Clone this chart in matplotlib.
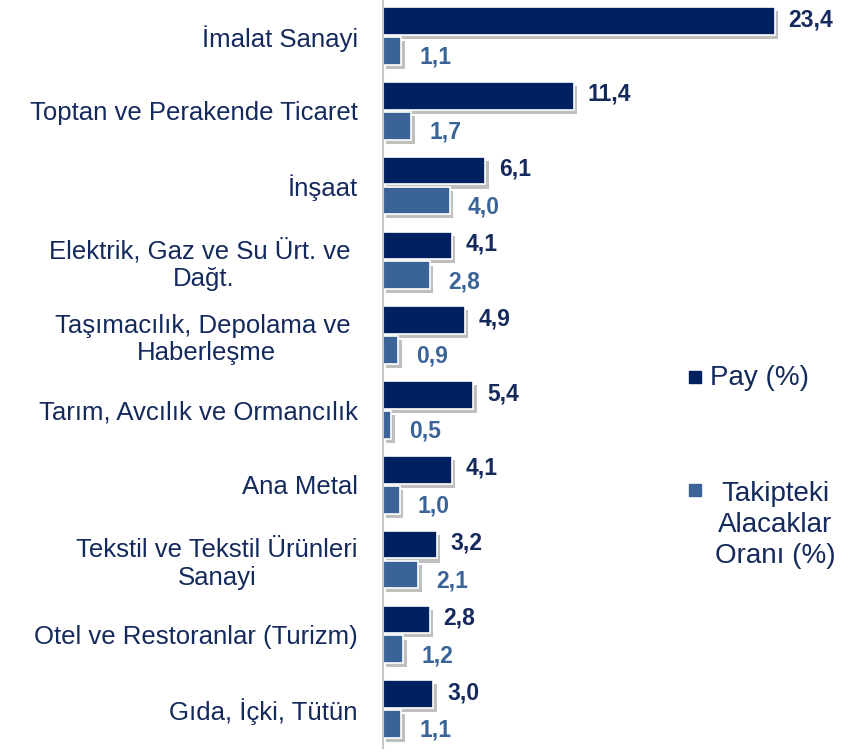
import matplotlib.pyplot as plt
import matplotlib.patheffects as pe
import numpy as np

kategoriler = ['İmalat Sanayi', 'Toptan ve Perakende Ticaret', 'İnşaat',
               'Elektrik, Gaz ve Su Ürt. ve \nDağt.', 'Taşımacılık, Depolama ve \nHaberleşme',
               'Tarım, Avcılık ve Ormancılık', 'Ana Metal',
               'Tekstil ve Tekstil Ürünleri\nSanayi', 'Otel ve Restoranlar (Turizm)',
               'Gıda, İçki, Tütün']
pay = [23.4, 11.4, 6.1, 4.1, 4.9, 5.4, 4.1, 3.2, 2.8, 3.0]
takip = [1.1, 1.7, 4.0, 2.8, 0.9, 0.5, 1.0, 2.1, 1.2, 1.1]

koyu = '#002060'
acik = '#3a6497'
yazi_koyu = '#14295c'

plt.rcParams['font.family'] = ['Liberation Sans', 'DejaVu Sans']

fig = plt.figure(figsize=(8.53, 7.52), dpi=100)
ax = fig.add_axes([383 / 853, 4 / 752, 410 / 853, 748 / 752])

y = np.arange(len(kategoriler))
golge = [pe.SimplePatchShadow(offset=(2.5, -3), shadow_rgbFace='#8c8c8c', alpha=0.55), pe.Normal()]

b1 = ax.barh(y - 0.2, pay, height=0.37, color=koyu, edgecolor='white', linewidth=1.2)
b2 = ax.barh(y + 0.2, takip, height=0.37, color=acik, edgecolor='white', linewidth=1.2)
for b in list(b1) + list(b2):
    b.set_path_effects(golge)

fmt = lambda v: f'{v:.1f}'.replace('.', ',')
for i in range(len(kategoriler)):
    ax.annotate(fmt(pay[i]), (pay[i], y[i] - 0.2), xytext=(10, 1), textcoords='offset points',
                ha='left', va='center', fontsize=16.5, fontweight='bold', color=yazi_koyu)
    ax.annotate(fmt(takip[i]), (takip[i], y[i] + 0.2), xytext=(13, -4.5), textcoords='offset points',
                ha='left', va='center', fontsize=16.5, fontweight='bold', color=acik)

ax.set_xlim(0, 24.5)
ax.set_ylim(9.52, -0.48)
ax.set_yticks(y)
ax.set_yticklabels(kategoriler, fontsize=18.5, color=yazi_koyu, multialignment='center',
                   linespacing=1.2)
ax.tick_params(axis='y', length=0, pad=18)
ax.set_xticks([])
for s in ['top', 'right', 'bottom']:
    ax.spines[s].set_visible(False)
ax.spines['left'].set_color('#c8c8c8')
ax.spines['left'].set_linewidth(1.5)

# lejant
fig.add_artist(plt.Rectangle((689 / 853, 1 - 383 / 752), 12 / 853, 12 / 752,
                             transform=fig.transFigure, color=koyu))
fig.text(710 / 853, 1 - 378 / 752, 'Pay (%)', fontsize=20, color=yazi_koyu, va='center', ha='left')
fig.add_artist(plt.Rectangle((689 / 853, 1 - 496 / 752), 12 / 853, 12 / 752,
                             transform=fig.transFigure, color=acik))
fig.text(775 / 853, 1 - 525 / 752, 'Takipteki\nAlacaklar\nOranı (%)', fontsize=20,
         color=yazi_koyu, va='center', ha='center', multialignment='center', linespacing=1.27)

fig.savefig('out.png', dpi=100)
